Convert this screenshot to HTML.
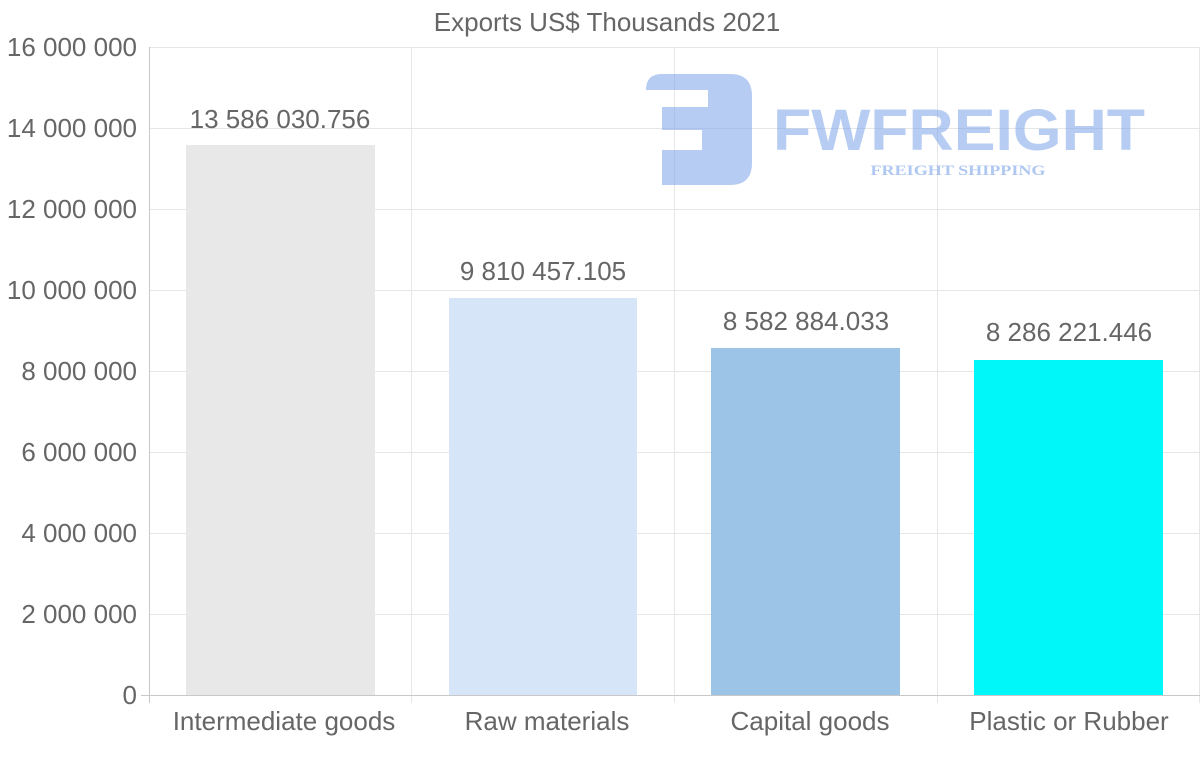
<!DOCTYPE html>
<html><head><meta charset="utf-8"><style>html,body{margin:0;padding:0;background:#fff}svg{display:block}</style></head>
<body>
<svg width="1200" height="763" xmlns="http://www.w3.org/2000/svg" font-family="Liberation Sans, sans-serif">
<rect width="1200" height="763" fill="#fff"/>
<g stroke="#e6e6e6" stroke-width="1">
<line x1="149" y1="47.5" x2="1200" y2="47.5"/><line x1="149" y1="128.5" x2="1200" y2="128.5"/>
<line x1="149" y1="209.5" x2="1200" y2="209.5"/><line x1="149" y1="290.5" x2="1200" y2="290.5"/>
<line x1="149" y1="371.5" x2="1200" y2="371.5"/><line x1="149" y1="452.5" x2="1200" y2="452.5"/>
<line x1="149" y1="533.5" x2="1200" y2="533.5"/><line x1="149" y1="614.5" x2="1200" y2="614.5"/>
<line x1="411.5" y1="47" x2="411.5" y2="703"/><line x1="674.5" y1="47" x2="674.5" y2="703"/>
<line x1="937.5" y1="47" x2="937.5" y2="703"/><line x1="1199.5" y1="47" x2="1199.5" y2="703"/>
</g>
<g stroke="#c8c8c8"><line x1="149.5" y1="47" x2="149.5" y2="703"/><line x1="141" y1="695.5" x2="1200" y2="695.5"/></g>
<path fill-rule="evenodd" d="M646 90 Q646 74 662 74 H730 Q752 74 752 96 V163 Q752 185 730 185 H662 V150 H702 V130 H662 V107 H708 V90 Z" fill="#7aa3e8" fill-opacity="0.55"/>
<text x="959" y="150" font-size="58" font-weight="bold" fill="#7aa3e8" fill-opacity="0.55" text-anchor="middle" textLength="372" lengthAdjust="spacingAndGlyphs">FWFREIGHT</text>
<text x="958" y="175" font-size="15" font-weight="bold" font-family="Liberation Serif, serif" fill="#7aa3e8" fill-opacity="0.6" text-anchor="middle" textLength="175" lengthAdjust="spacingAndGlyphs">FREIGHT SHIPPING</text>
<rect x="186" y="145" width="189" height="550" fill="#e8e8e8"/>
<rect x="449" y="298" width="188" height="397" fill="#d6e6f8"/>
<rect x="711" y="348" width="189" height="347" fill="#9bc4e6"/>
<rect x="974" y="360" width="189" height="335" fill="#00f7f9"/>
<g fill="#666" font-size="26">
<text x="607" y="31" text-anchor="middle" font-size="26">Exports US$ Thousands 2021</text>
<text x="280" y="128" text-anchor="middle">13 586 030.756</text>
<text x="543" y="280" text-anchor="middle">9 810 457.105</text>
<text x="806" y="330" text-anchor="middle">8 582 884.033</text>
<text x="1069" y="341" text-anchor="middle">8 286 221.446</text>
</g>
<g fill="#666" font-size="26" text-anchor="end">
<text x="137" y="56">16 000 000</text><text x="137" y="137">14 000 000</text>
<text x="137" y="218">12 000 000</text><text x="137" y="299">10 000 000</text>
<text x="137" y="380">8 000 000</text><text x="137" y="461">6 000 000</text>
<text x="137" y="542">4 000 000</text><text x="137" y="623">2 000 000</text>
<text x="137" y="704">0</text>
</g>
<g fill="#666" font-size="26" text-anchor="middle">
<text x="284" y="730">Intermediate goods</text><text x="547" y="730">Raw materials</text>
<text x="810" y="730">Capital goods</text><text x="1069" y="730">Plastic or Rubber</text>
</g>
</svg>
</body></html>
